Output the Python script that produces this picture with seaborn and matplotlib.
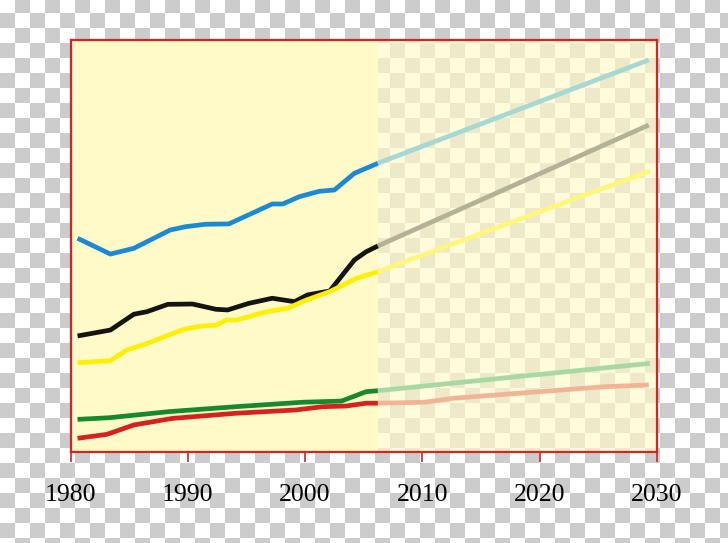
import numpy as np
import pandas as pd
import matplotlib
matplotlib.use("Agg")
import matplotlib.pyplot as plt
import seaborn as sns

# ---- data (arbitrary units) ----
oil_years = [1980.6, 1983.4, 1985.4, 1988.5, 1989.8, 1991.5, 1993.5, 1997.2, 1998.1, 1999.5, 2001.2, 2002.5, 2004.2, 2006.2]
oil_vals = [129.7, 120.1, 123.6, 134.7, 136.7, 138.2, 138.4, 150.5, 150.5, 154.9, 158.2, 159.0, 169.1, 175.2]
oil_proj_years = [2006.2, 2029.3]
oil_proj_vals = [175.2, 237.9]

coal_years = [1980.6, 1983.4, 1985.4, 1986.5, 1988.3, 1990.4, 1992.4, 1993.4, 1995.2, 1997.2, 1999.1, 2000.2, 2002.1, 2004.2, 2005.2, 2006.2]
coal_vals = [70.4, 74.0, 83.6, 85.1, 89.6, 89.8, 86.6, 86.2, 90.2, 93.3, 91.2, 95.3, 97.7, 116.5, 121.5, 125.0]
coal_proj_years = [2006.2, 2029.3]
coal_proj_vals = [125.0, 198.4]

gas_years = [1980.6, 1983.4, 1984.8, 1986.4, 1988.4, 1989.7, 1991.3, 1992.4, 1993.3, 1994.2, 1996.7, 1998.5, 2000.1, 2002.1, 2004.4, 2006.2]
gas_vals = [54.2, 55.4, 61.9, 65.5, 71.0, 74.5, 76.5, 76.9, 80.1, 80.1, 85.1, 87.2, 92.2, 97.3, 105.4, 109.4]
gas_proj_years = [2006.2, 2029.4]
gas_proj_vals = [109.4, 170.5]

green_years = [1980.6, 1983.3, 1988.4, 1994.1, 1999.8, 2003.1, 2005.2, 2006.2]
green_vals = [19.8, 20.8, 24.5, 27.5, 30.2, 30.9, 36.6, 37.2]
green_proj_years = [2006.2, 2029.4]
green_proj_vals = [37.2, 53.8]

red_years = [1980.6, 1983.1, 1985.4, 1988.7, 1994.1, 1999.2, 2001.5, 2003.5, 2005.2, 2006.2]
red_vals = [8.3, 10.7, 16.4, 20.4, 23.5, 25.5, 27.5, 27.9, 29.6, 29.6]
red_proj_years = [2006.2, 2010.2, 2012.6, 2025.5, 2029.3]
red_proj_vals = [29.6, 30.2, 32.6, 39.6, 40.7]

tick_years = [1980, 1990, 2000, 2010, 2020, 2030]
history_end = 2006.2

# ---- styling ----
sns.set_theme(style="white")
plt.rcParams["font.family"] = ["Liberation Serif", "DejaVu Serif"]

W, H = 728, 543
fig = plt.figure(figsize=(W / 100, H / 100), dpi=100)

# checkerboard background (transparency pattern)
yy, xx = np.mgrid[0:H, 0:W]
cb = ((xx // 15) + ((yy + 2) // 15)) % 2
bg = np.where(cb[..., None] == 1, np.array([204, 204, 204]), np.array([255, 255, 255])).astype(np.uint8)
bax = fig.add_axes([0, 0, 1, 1], zorder=0)
bax.imshow(bg, extent=(0, W, H, 0), interpolation="nearest", aspect="auto")
bax.set_axis_off()

left, right, top, bottom = 70.5, 657.0, 40.0, 452.0
ax = fig.add_axes([left / W, (H - bottom) / H, (right - left) / W, (bottom - top) / H], zorder=1)
ax.set_facecolor("none")
ax.set_xlim(1980, 2030)
ax.set_ylim(0, 250)

fill = (1.0, 250 / 255, 200 / 255)
ax.axvspan(1980, history_end, color=fill, lw=0, zorder=0)
ax.axvspan(history_end, 2030, color=fill, alpha=0.65, lw=0, zorder=0)

lw = 3.4
series = [
    (oil_years, oil_vals, "#1a8ad4", oil_proj_years, oil_proj_vals, "#a6d8d4"),
    (coal_years, coal_vals, "#141414", coal_proj_years, coal_proj_vals, "#b3b196"),
    (gas_years, gas_vals, "#fff000", gas_proj_years, gas_proj_vals, "#fff77a"),
    (green_years, green_vals, "#16882e", green_proj_years, green_proj_vals, "#a8d9a4"),
    (red_years, red_vals, "#d6211f", red_proj_years, red_proj_vals, "#f2b496"),
]
for xs, ys, c, pxs, pys, pc in series:
    sns.lineplot(x=pxs, y=pys, color=pc, lw=lw, ax=ax, sort=False, estimator=None,
                 solid_capstyle="butt", zorder=2)
    sns.lineplot(x=xs, y=ys, color=c, lw=lw, ax=ax, sort=False, estimator=None,
                 solid_capstyle="butt", solid_joinstyle="round", zorder=3)

red = "#d42424"
for s in ax.spines.values():
    s.set_visible(True)
    s.set_color(red)
    s.set_linewidth(1.6)

ax.set_xticks(tick_years)
ax.set_xticklabels([str(t) for t in tick_years])
ax.set_yticks([])
ax.tick_params(axis="x", bottom=True, direction="out", length=7.5, width=1.2,
               color=red, labelsize=18.5, labelcolor="black", pad=15.5)
ax.set_xlabel("")
ax.set_ylabel("")
if ax.get_legend():
    ax.get_legend().remove()

fig.savefig("out.png", dpi=100)
